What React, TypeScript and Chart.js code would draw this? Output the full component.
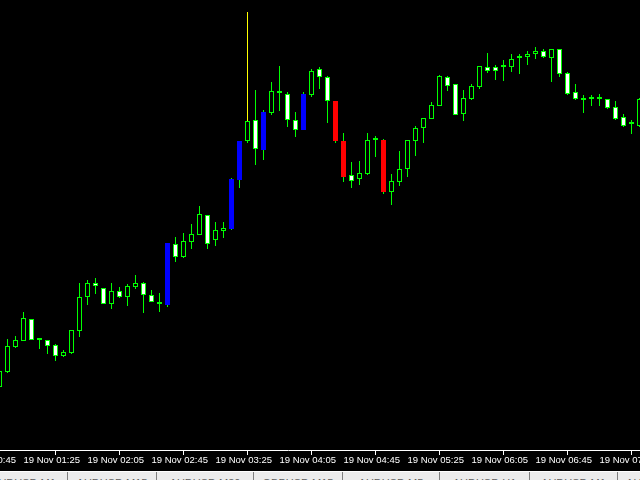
import React, { useEffect, useRef } from "react";
import { Chart, registerables } from "chart.js";

Chart.register(...registerables);

// AUDUSD M5 candles, index 0 = 19 Nov 01:10
const opens = [
  0.65613, 0.65628, 0.65653, 0.65659, 0.65681, 0.6566, 0.6566, 0.65655, 0.65644, 0.65647,
  0.65669, 0.65703, 0.65717, 0.65712, 0.65696, 0.65709, 0.65703, 0.65713, 0.65717, 0.65705,
  0.65696, 0.65695, 0.65756, 0.65743, 0.65758, 0.65765, 0.65785, 0.6576, 0.65769, 0.65771,
  0.6582, 0.65859, 0.6588, 0.6585, 0.65887, 0.65907, 0.65906, 0.6588, 0.6587, 0.65905,
  0.65931, 0.65923, 0.65899, 0.65859, 0.65825, 0.65821, 0.65826, 0.6586, 0.6586, 0.65808,
  0.65818, 0.65831, 0.65859, 0.65872, 0.65881, 0.65894, 0.65923, 0.65916, 0.65886, 0.65901,
  0.65913, 0.65933, 0.65933, 0.65933, 0.65933, 0.65942, 0.65943, 0.65946, 0.65949, 0.65942,
  0.65951, 0.65927, 0.65908, 0.659, 0.65901, 0.65901, 0.65901, 0.65893, 0.65883, 0.65876,
  0.65874,
];
const highs = [
  0.6563, 0.65661, 0.65664, 0.65688, 0.65681, 0.65662, 0.6566, 0.65656, 0.6565, 0.6567,
  0.65717, 0.6572, 0.65722, 0.65712, 0.65717, 0.65713, 0.65716, 0.65725, 0.65718, 0.6571,
  0.65707, 0.65757, 0.65763, 0.65767, 0.65776, 0.65794, 0.65785, 0.65778, 0.65778, 0.65822,
  0.65859, 0.65988, 0.6591, 0.6589, 0.65918, 0.65934, 0.65908, 0.65888, 0.65908, 0.65931,
  0.65933, 0.65924, 0.65899, 0.65867, 0.65838, 0.65839, 0.65867, 0.65864, 0.65861, 0.65826,
  0.65849, 0.6586, 0.65874, 0.65882, 0.65898, 0.65925, 0.65924, 0.65916, 0.6591, 0.65916,
  0.65934, 0.65947, 0.65935, 0.6594, 0.65946, 0.65946, 0.65949, 0.65953, 0.65951, 0.65951,
  0.65951, 0.65928, 0.65916, 0.65905, 0.65905, 0.65906, 0.65901, 0.65899, 0.65886, 0.6588,
  0.65902,
];
const lows = [
  0.65612, 0.65627, 0.65652, 0.65659, 0.6566, 0.65651, 0.65646, 0.65639, 0.65643, 0.65646,
  0.65663, 0.65695, 0.65706, 0.65696, 0.65691, 0.65702, 0.65694, 0.65711, 0.65687, 0.65698,
  0.65688, 0.65693, 0.65738, 0.65742, 0.65751, 0.65765, 0.65751, 0.65754, 0.65762, 0.6577,
  0.65812, 0.65857, 0.65835, 0.6584, 0.65885, 0.65889, 0.65873, 0.65863, 0.6587, 0.65903,
  0.65911, 0.65877, 0.65857, 0.65818, 0.65812, 0.65815, 0.65825, 0.65843, 0.65806, 0.65795,
  0.65814, 0.65823, 0.65844, 0.65857, 0.65881, 0.65894, 0.65909, 0.65885, 0.65879, 0.659,
  0.65911, 0.65927, 0.6592, 0.65919, 0.65928, 0.65926, 0.65935, 0.65941, 0.65942, 0.65918,
  0.65923, 0.65905, 0.659, 0.65887, 0.65894, 0.65894, 0.65891, 0.6588, 0.65873, 0.65866,
  0.65873,
];
const closes = [
  0.65629, 0.65654, 0.6566, 0.65682, 0.6566, 0.6566, 0.65654, 0.65644, 0.65648, 0.6567,
  0.65703, 0.65717, 0.65714, 0.65696, 0.65709, 0.65703, 0.65714, 0.65717, 0.65705, 0.65698,
  0.65696, 0.65757, 0.65743, 0.65759, 0.65766, 0.65786, 0.65756, 0.6577, 0.65772, 0.65821,
  0.65859, 0.65879, 0.65851, 0.65888, 0.65909, 0.65907, 0.6588, 0.6587, 0.65906, 0.65929,
  0.65923, 0.65899, 0.65859, 0.65823, 0.65819, 0.65827, 0.6586, 0.6586, 0.65808, 0.65819,
  0.65831, 0.6586, 0.65872, 0.65882, 0.65895, 0.65924, 0.65914, 0.65885, 0.65902, 0.65914,
  0.65934, 0.65929, 0.65929, 0.65933, 0.65941, 0.65942, 0.65946, 0.65949, 0.65943, 0.65951,
  0.65926, 0.65906, 0.65901, 0.659, 0.65901, 0.65901, 0.65892, 0.65881, 0.65874, 0.65876,
  0.65901,
];

// indicator-highlighted candles
const blueBars = [21, 29, 30, 33, 38];
const redBars = [42, 43, 48];
const spikeBar = 31;

// time axis
const tickIndex = [-5, 3, 11, 19, 27, 35, 43, 51, 59, 67, 75];
const tickLabels = [
  "19 Nov 00:45", "19 Nov 01:25", "19 Nov 02:05", "19 Nov 02:45", "19 Nov 03:25", "19 Nov 04:05",
  "19 Nov 04:45", "19 Nov 05:25", "19 Nov 06:05", "19 Nov 06:45", "19 Nov 07:25",
];

const tabLabels = ["AUDUSD,M1", "AUDUSD,M15", "AUDUSD,M30", "GBPUSD,M15", "AUDUSD,M5", "AUDUSD,H1", "AUDUSD,M1", "AUDUSD,M5"];
const tabEdges = [-20, 68, 157, 254, 343, 440, 530, 618, 700];

const GREEN = "#00ff00";

export default function App() {
  const ref = useRef<HTMLCanvasElement>(null);

  useEffect(() => {
    const idx = opens.map((_, i) => i);
    const bodyBg = idx.map((i) =>
      blueBars.includes(i) ? "#0000ff" : redBars.includes(i) ? "#ff0000" : closes[i] > opens[i] ? "#000000" : "#ffffff"
    );
    const bodyBorder = idx.map((i) =>
      blueBars.includes(i) ? "#0000ff" : redBars.includes(i) ? "#ff0000" : GREEN
    );

    const chart = new Chart(ref.current!, {
      type: "bar",
      data: {
        datasets: [
          {
            label: "body",
            data: idx.map((i) => ({ x: i, y: [opens[i], closes[i]] })) as any,
            backgroundColor: bodyBg,
            borderColor: bodyBorder,
            borderWidth: 1,
            borderSkipped: false,
            barThickness: 5,
            minBarLength: 2,
            inflateAmount: 0,
            grouped: false,
            order: 0,
          } as any,
          {
            label: "spike",
            data: [{ x: spikeBar, y: [closes[spikeBar], highs[spikeBar]] }] as any,
            backgroundColor: "#ffff00",
            borderWidth: 0,
            barThickness: 1,
            inflateAmount: 0,
            grouped: false,
            order: 1,
          } as any,
          {
            label: "wick",
            data: idx.map((i) => ({ x: i, y: [lows[i], highs[i]] })) as any,
            backgroundColor: GREEN,
            borderWidth: 0,
            barThickness: 1,
            inflateAmount: 0,
            grouped: false,
            order: 2,
          } as any,
        ],
      },
      options: {
        animation: false,
        responsive: false,
        events: [],
        layout: { padding: 0, autoPadding: false } as any,
        plugins: { legend: { display: false }, tooltip: { enabled: false } },
        scales: {
          x: {
            type: "linear",
            min: -7.9375,
            max: 80.0625,
            offset: false,
            afterBuildTicks: (axis: any) => {
              axis.ticks = tickIndex.map((v) => ({ value: v }));
            },
            afterFit: (axis: any) => {
              axis.paddingLeft = 0;
              axis.paddingRight = 0;
              axis.height = 21;
            },
            ticks: {
              autoSkip: false,
              maxRotation: 0,
              minRotation: 0,
              align: "start",
              color: "#ffffff",
              padding: 0,
              font: { family: "Liberation Sans", size: 9.5 },
              callback: (v: any) => {
                const j = tickIndex.indexOf(Number(v));
                return j >= 0 ? tickLabels[j] : "";
              },
            },
            grid: {
              display: true,
              drawOnChartArea: false,
              drawTicks: true,
              tickLength: 5,
              color: "#ffffff",
              lineWidth: 1,
            },
            border: { display: true, color: "#ffffff", width: 1 },
          },
          y: {
            display: false,
            min: 0.6555,
            max: 0.66,
          },
        },
      },
    });
    return () => chart.destroy();
  }, []);

  return (
    <div style={{ position: "fixed", left: 0, top: 0, width: 640, height: 480, background: "#000", overflow: "hidden" }}>
      <canvas ref={ref} width={704} height={471} style={{ position: "absolute", left: -64, top: 0, width: 704, height: 471 }} />
      <div
        style={{
          position: "absolute",
          left: 0,
          top: 471,
          width: 640,
          height: 9,
          background: "#ececec",
          borderTop: "1px solid #ffffff",
          boxSizing: "border-box",
          overflow: "hidden",
        }}
      >
        {tabLabels.map((t, i) => (
          <div
            key={i}
            style={{
              position: "absolute",
              left: tabEdges[i],
              width: tabEdges[i + 1] - tabEdges[i],
              top: 3,
              height: 14,
              borderRight: "1px solid #808080",
              boxSizing: "border-box",
              textAlign: "center",
              font: "11px 'Liberation Sans'",
              color: "#606060",
              lineHeight: "14px",
              top: 0,
            } as any}
          >
            <div style={{ position: "relative", top: 4 }}>{t}</div>
          </div>
        ))}
      </div>
    </div>
  );
}
